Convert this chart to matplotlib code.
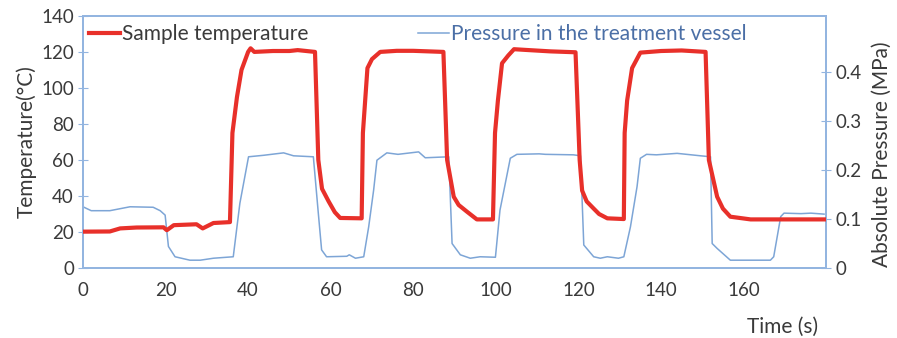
"""Sample temperature and vessel pressure during cyclic treatment."""

import matplotlib

matplotlib.use("Agg")
import matplotlib.pyplot as plt  # noqa: E402

# sample temperature (deg C) vs time (s)
temp_time = [0, 6.5, 9, 13, 19.5, 20.3, 22, 27.5, 29, 31.6, 35.6,
             36.2, 37.3, 38.4, 40, 40.6, 41.5, 46, 50, 52, 56.2,
             57, 57.9, 59.5, 61, 62.3, 67.5,
             67.8, 68.9, 70, 72, 76, 80, 87.3,
             88.2, 89.8, 91, 93, 95.4, 99.3,
             99.8, 100.5, 101.5, 103, 104.4, 108, 113.2, 119.3,
             120.3, 120.9, 122, 123.7, 125, 127, 131,
             131.2, 131.8, 133, 135, 140, 145, 150.8,
             151.6, 153.6, 155, 156.8, 161.7, 170, 180]
temp_val = [20.2, 20.3, 22, 22.5, 22.6, 21, 23.8, 24.3, 22, 25, 25.5,
            75, 95, 110, 120, 122, 120, 120.5, 120.5, 121, 120,
            60, 44, 37, 31, 27.8, 27.6,
            75, 111, 116, 120, 120.6, 120.6, 120,
            60, 39.6, 35, 31.3, 27, 27,
            75, 93, 113.7, 118, 121.5, 121, 120.3, 119.8,
            60, 43, 37, 33, 30, 27.6, 27.2,
            75, 93, 111, 119.6, 120.5, 120.8, 120,
            60, 39.6, 33, 28.5, 27, 27, 27]

# absolute pressure (MPa) vs time (s)
pres_time = [0, 2, 6.5, 11.4, 17, 18.7, 19.9, 20.7, 22.3, 25.9, 28.4,
             31.6, 36.4, 38, 40.1, 43.7, 48.6, 51, 55.8,
             57, 57.8, 59, 63.9, 64.5, 66, 68, 69.2, 70.4, 71.2,
             73.6, 76.3, 81.3, 82.9, 88.6,
             89.4, 91.4, 93.8, 96.2, 99.9, 101, 103.1, 103.5, 105.1,
             110.5, 112, 118.8, 120.5,
             121.3, 123.7, 125.3, 127, 129.7, 131, 132.6, 134.2, 135,
             136.5, 138.9, 143.9, 149.6, 152,
             152.4, 153.6, 156.8, 166.5, 167.3, 169, 169.8, 173.9,
             176.3, 179.5]
pres_val = [0.125, 0.117, 0.117, 0.125, 0.124, 0.117, 0.108, 0.044, 0.023,
            0.016, 0.016, 0.02, 0.023, 0.132, 0.227, 0.23, 0.235, 0.229,
            0.227,
            0.112, 0.037, 0.023, 0.024, 0.027, 0.02, 0.023, 0.084, 0.159,
            0.22,
            0.235, 0.232, 0.237, 0.225, 0.227,
            0.05, 0.027, 0.02, 0.023, 0.022, 0.118, 0.207, 0.224, 0.232,
            0.233, 0.232, 0.231, 0.229,
            0.047, 0.023, 0.02, 0.023, 0.02, 0.023, 0.084, 0.166, 0.224,
            0.232, 0.231, 0.234, 0.229, 0.227,
            0.05, 0.04, 0.016, 0.016, 0.023, 0.105, 0.112, 0.111,
            0.112, 0.11]

x_ticks = [0, 20, 40, 60, 80, 100, 120, 140, 160]
temp_ticks = [0, 20, 40, 60, 80, 100, 120, 140]
pres_ticks = [0, 0.1, 0.2, 0.3, 0.4]

RED = "#e8302a"
BLUE = "#7da5d6"
SPINE = "#93b5e0"
TEXT = "#3a3a3a"

plt.rcParams["font.family"] = ["Lato", "DejaVu Sans"]

fig = plt.figure(figsize=(8.97, 3.38), dpi=100)
ax = fig.add_axes([0.0925, 0.207, 0.8285, 0.746])
ax2 = ax.twinx()

ax2.plot(pres_time, pres_val, color=BLUE, lw=1.1, zorder=2)
ax.plot(temp_time, temp_val, color=RED, lw=3.0, solid_joinstyle="round",
        zorder=3)
ax.set_zorder(ax2.get_zorder() + 1)
ax.patch.set_visible(False)

ax.set_xlim(0, 180)
ax.set_ylim(0, 140)
ax2.set_ylim(0, 0.5145)
ax.set_xticks(x_ticks)
ax.set_yticks(temp_ticks)
ax2.set_yticks(pres_ticks)
ax2.set_yticklabels(["0", "0.1", "0.2", "0.3", "0.4"])

for a in (ax, ax2):
    for sp in a.spines.values():
        sp.set_color(SPINE)
        sp.set_linewidth(1.3)
ax.tick_params(axis="y", direction="inout", length=7, color=SPINE,
               labelsize=13.5, labelcolor=TEXT, pad=3)
ax.tick_params(axis="x", length=0, labelsize=13.5, labelcolor=TEXT, pad=10)
ax2.tick_params(axis="y", direction="inout", length=7, color=SPINE,
                labelsize=13.5, labelcolor=TEXT, pad=3)

ax.set_ylabel("Temperature(°C)", fontsize=15, color=TEXT, labelpad=3)
ax2.set_ylabel("Absolute Pressure (MPa)", fontsize=15, color=TEXT)
ax2.yaxis.set_label_coords(1.062, 0.45)
fig.text(0.872, 0.032, "Time (s)", fontsize=15, color=TEXT,
         ha="center", va="center")

h1 = plt.Line2D([], [], color=RED, lw=3.0)
h2 = plt.Line2D([], [], color=BLUE, lw=1.1)
leg = ax.legend([h1, h2], ["Sample temperature",
                           "Pressure in the treatment vessel"],
                loc="upper left", ncol=2, frameon=False, fontsize=15,
                handlelength=1.5, handletextpad=0.1, columnspacing=5.25,
                bbox_to_anchor=(-0.012, 1.026), borderaxespad=0.3)
leg.get_texts()[0].set_color(TEXT)
leg.get_texts()[1].set_color("#4b6fa6")

fig.savefig("out.png", dpi=100)
plt.close(fig)
